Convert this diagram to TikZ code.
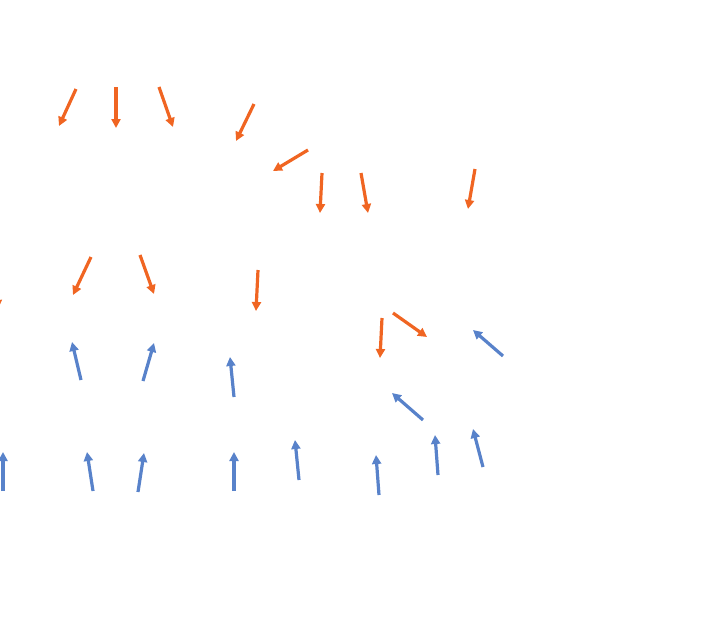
\documentclass[tikz,border=0pt]{standalone}
\usetikzlibrary{arrows.meta}
\definecolor{vecorange}{RGB}{240,101,34}
\definecolor{vecblue}{RGB}{88,130,202}
\begin{document}
\begin{tikzpicture}[x=1pt, y=-1pt,
	orangevec/.style={vecorange, line width=3.2pt, -{Triangle[length=9pt, width=9pt]}},
	bluevec/.style={vecblue, line width=3.2pt, -{Triangle[length=9pt, width=9pt]}}]
	
	\useasboundingbox (0,0) rectangle (721,643);
	\clip (0,0) rectangle (721,643);
	
	\draw[orangevec] (76,89) -- (59,126);
	\draw[orangevec] (116,87) -- (116,128);
	\draw[orangevec] (159,87) -- (173,127);
	\draw[orangevec] (254,104) -- (236,141);
	\draw[orangevec] (308,150) -- (273,171);
	\draw[orangevec] (322,173) -- (320,213);
	\draw[orangevec] (361,173) -- (368,213);
	\draw[orangevec] (475,169) -- (468,209);
	
	\draw[orangevec] (-5,270) -- (-2,309);
	\draw[orangevec] (91,257) -- (73,295);
	\draw[orangevec] (140,255) -- (154,294);
	\draw[orangevec] (258,270) -- (256,311);
	\draw[orangevec] (382,318) -- (380,358);
	\draw[orangevec] (393,313) -- (427,337);
	
	\draw[bluevec] (81,380) -- (72,342);
	\draw[bluevec] (143,381) -- (154,343);
	\draw[bluevec] (234,397) -- (230,357);
	\draw[bluevec] (503,356) -- (473,330);
	\draw[bluevec] (423,420) -- (392,393);
	
	\draw[bluevec] (3,491) -- (3,452);
	\draw[bluevec] (93,491) -- (87,452);
	\draw[bluevec] (138,492) -- (144,453);
	\draw[bluevec] (234,491) -- (234,452);
	\draw[bluevec] (299,480) -- (295,440);
	\draw[bluevec] (379,495) -- (376,455);
	\draw[bluevec] (438,475) -- (435,435);
	\draw[bluevec] (483,467) -- (473,429);
	
\end{tikzpicture}
\end{document}
